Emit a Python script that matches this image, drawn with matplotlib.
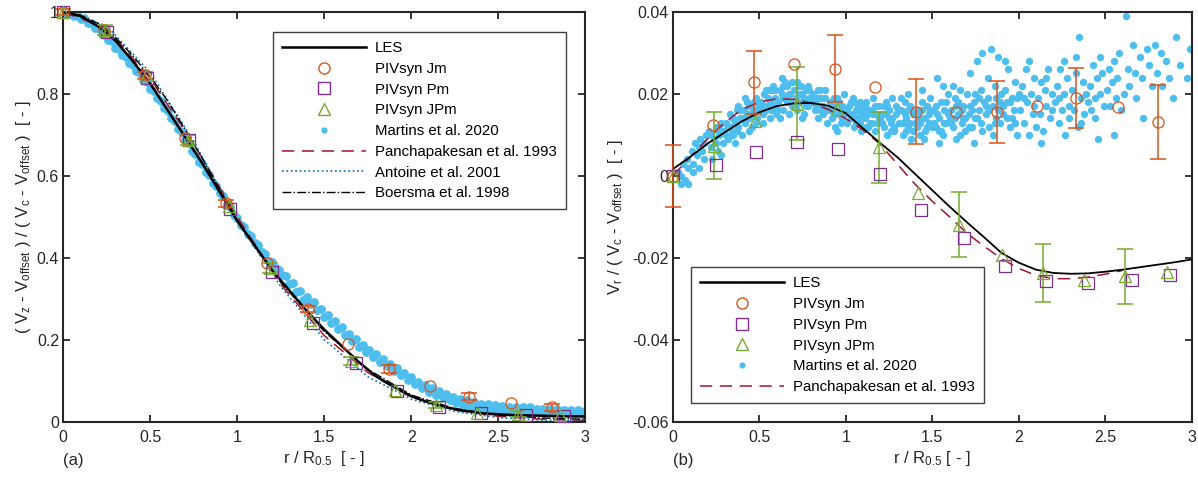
import numpy as np
import matplotlib
matplotlib.use("Agg")
import matplotlib.pyplot as plt

plt.rcParams['font.family'] = ['Liberation Sans', 'DejaVu Sans']
plt.rcParams['mathtext.fontset'] = 'custom'
plt.rcParams['mathtext.rm'] = 'Liberation Sans'
plt.rcParams['mathtext.default'] = 'regular'

# ---------------- data: panel (a), axial velocity ----------------
les_r = [0, 0.1, 0.2, 0.3, 0.4, 0.5, 0.6, 0.7, 0.8, 0.9, 1.0, 1.1, 1.2, 1.3, 1.4, 1.5,
         1.6, 1.7, 1.8, 1.9, 2.0, 2.1, 2.2, 2.3, 2.4, 2.5, 2.6, 2.7, 2.8, 2.9, 3.0]
les_vz = [1.0, 0.99, 0.965, 0.93, 0.88, 0.825, 0.76, 0.695, 0.63, 0.56, 0.49, 0.43, 0.37,
          0.32, 0.27, 0.225, 0.185, 0.145, 0.11, 0.085, 0.062, 0.047, 0.035, 0.027, 0.021,
          0.018, 0.016, 0.015, 0.014, 0.013, 0.013]

jm_r = [0, 0.234, 0.468, 0.702, 0.936, 1.17, 1.405, 1.638, 1.872, 2.107, 2.333, 2.571, 2.807]
jm_vz = [1.0, 0.955, 0.845, 0.692, 0.533, 0.388, 0.275, 0.189, 0.1285, 0.088, 0.061, 0.045, 0.035]
jm_vz_err = [0.008, 0.009, 0.009, 0.008, 0.009, 0.008, 0.008]

pm_r = [0, 0.252, 0.479, 0.72, 0.958, 1.198, 1.437, 1.682, 1.92, 2.159, 2.399, 2.657, 2.877]
pm_vz = [1.0, 0.952, 0.838, 0.687, 0.52, 0.366, 0.242, 0.144, 0.0757, 0.0366, 0.0205, 0.0163, 0.0146]

jpm_r = [0, 0.24, 0.478, 0.718, 0.95, 1.19, 1.418, 1.652, 1.906, 2.142, 2.379, 2.615, 2.855]
jpm_vz = [1.0, 0.957, 0.845, 0.688, 0.527, 0.375, 0.248, 0.149, 0.077, 0.041, 0.022, 0.019, 0.016]
jpm_vz_err = [0.012, 0.012, 0.012, 0.010, 0.008, 0.008]

mart_r = [0.00, 0.02, 0.04, 0.06, 0.08, 0.10, 0.12, 0.14, 0.16, 0.18,
          0.20, 0.22, 0.24, 0.26, 0.28, 0.30, 0.32, 0.34, 0.36, 0.38,
          0.40, 0.42, 0.44, 0.46, 0.48, 0.50, 0.52, 0.54, 0.56, 0.58,
          0.60, 0.62, 0.64, 0.66, 0.68, 0.70, 0.72, 0.74, 0.76, 0.78,
          0.80, 0.82, 0.84, 0.86, 0.88, 0.90, 0.92, 0.94, 0.96, 0.98,
          1.00, 1.02, 1.04, 1.06, 1.08, 1.10, 1.12, 1.14, 1.16, 1.18,
          1.20, 1.22, 1.24, 1.26, 1.28, 1.30, 1.32, 1.34, 1.36, 1.38,
          1.40, 1.42, 1.44, 1.46, 1.48, 1.50, 1.52, 1.54, 1.56, 1.58,
          1.60, 1.62, 1.64, 1.66, 1.68, 1.70, 1.72, 1.74, 1.76, 1.78,
          1.80, 1.82, 1.84, 1.86, 1.88, 1.90, 1.92, 1.94, 1.96, 1.98,
          2.00, 2.02, 2.04, 2.06, 2.08, 2.10, 2.12, 2.14, 2.16, 2.18,
          2.20, 2.22, 2.24, 2.26, 2.28, 2.30, 2.32, 2.34, 2.36, 2.38,
          2.40, 2.42, 2.44, 2.46, 2.48, 2.50, 2.52, 2.54, 2.56, 2.58,
          2.60, 2.62, 2.64, 2.66, 2.68, 2.70, 2.72, 2.74, 2.76, 2.78,
          2.80, 2.82, 2.84, 2.86, 2.88, 2.90, 2.92, 2.94, 2.96, 2.98, 3.00]
mart_vz = [1.000, 0.995, 0.999, 0.991, 0.994, 0.984, 0.985, 0.974, 0.974, 0.961,
           0.960, 0.947, 0.945, 0.931, 0.928, 0.912, 0.909, 0.894, 0.891, 0.875,
           0.871, 0.855, 0.851, 0.834, 0.829, 0.812, 0.807, 0.789, 0.783, 0.765,
           0.759, 0.740, 0.733, 0.714, 0.707, 0.687, 0.680, 0.661, 0.654, 0.635,
           0.628, 0.609, 0.602, 0.583, 0.576, 0.557, 0.550, 0.531, 0.524, 0.505,
           0.498, 0.480, 0.475, 0.458, 0.454, 0.437, 0.432, 0.415, 0.410, 0.393,
           0.389, 0.374, 0.371, 0.357, 0.355, 0.337, 0.339, 0.317, 0.319, 0.298,
           0.304, 0.286, 0.291, 0.272, 0.276, 0.256, 0.261, 0.242, 0.246, 0.226,
           0.230, 0.211, 0.215, 0.196, 0.201, 0.183, 0.188, 0.170, 0.176, 0.158,
           0.164, 0.146, 0.152, 0.135, 0.141, 0.124, 0.130, 0.113, 0.119, 0.101,
           0.108, 0.091, 0.098, 0.082, 0.089, 0.073, 0.081, 0.066, 0.074, 0.059,
           0.067, 0.052, 0.061, 0.046, 0.056, 0.040, 0.052, 0.036, 0.048, 0.032,
           0.044, 0.029, 0.042, 0.027, 0.040, 0.025, 0.038, 0.024, 0.037, 0.023,
           0.036, 0.022, 0.035, 0.021, 0.035, 0.024, 0.031, 0.023, 0.031, 0.023,
           0.030, 0.022, 0.030, 0.021, 0.029, 0.021, 0.028, 0.020, 0.028, 0.019, 0.027]

panch_r = [0, 0.25, 0.5, 0.75, 1.0, 1.25, 1.5, 1.75, 2.0, 2.25, 2.5, 2.75, 3.0]
panch_vz = [1.0, 0.96, 0.838, 0.678, 0.5, 0.335, 0.21, 0.12, 0.06, 0.028, 0.013, 0.006, 0.003]

antoine_r = [0, 0.25, 0.5, 0.75, 1.0, 1.25, 1.5, 1.75, 2.0, 2.25, 2.5, 2.75, 3.0]
antoine_vz = [1.0, 0.966, 0.852, 0.684, 0.49, 0.33, 0.2, 0.11, 0.055, 0.025, 0.01, 0.004, 0.0015]

boersma_r = [0, 0.1, 0.2, 0.3, 0.4, 0.5, 0.6, 0.7, 0.8, 0.9, 1.0, 1.25, 1.5, 1.75, 2.0,
             2.25, 2.5, 2.75, 3.0]
boersma_vz = [1.0, 0.992, 0.972, 0.938, 0.893, 0.842, 0.783, 0.714, 0.642, 0.566, 0.492,
              0.34, 0.22, 0.128, 0.065, 0.032, 0.016, 0.009, 0.006]

# ---------------- data: panel (b), radial velocity ----------------
les_vr = [0.0016, 0.0046, 0.0078, 0.0106, 0.0133, 0.0155, 0.0170, 0.0177, 0.0178, 0.0171,
          0.0153, 0.0116, 0.0080, 0.0045, 0.0005, -0.0035, -0.0075, -0.0113, -0.0150,
          -0.0188, -0.0212, -0.0229, -0.0237, -0.0239, -0.0238, -0.0234, -0.0229, -0.0223,
          -0.0217, -0.0211, -0.0204]

jm_vr = [0.0, 0.0123, 0.0228, 0.0272, 0.0262, 0.0217, 0.0157, 0.0156, 0.0156, 0.0170,
         0.0191, 0.0169, 0.0131]
jm_vr_err = [0.0076, 0.0077, 0.0081, 0.0079, 0.0075, 0.0073, 0.0091]

pm_vr = [0.0, 0.0027, 0.0059, 0.0083, 0.0066, 0.0004, -0.0084, -0.0151, -0.0219, -0.0256,
         -0.0262, -0.0254, -0.0241]

jpm_vr = [0.0, 0.0074, 0.0135, 0.0176, 0.0164, 0.0070, -0.0043, -0.0119, -0.0192, -0.0237,
          -0.0254, -0.0245, -0.0235]
jpm_vr_err = [0.0082, 0.0089, 0.0087, 0.0080, 0.0070, 0.0067]

panch_vr_r = [0, 0.1, 0.2, 0.3, 0.4, 0.5, 0.6, 0.7, 0.8, 0.9, 1.0, 1.1, 1.2, 1.3, 1.4, 1.5,
              1.6, 1.7, 1.8, 1.9, 2.0, 2.1, 2.2, 2.3, 2.4, 2.5, 2.6]
panch_vr = [0.0, 0.0045, 0.0090, 0.0130, 0.0162, 0.0180, 0.0188, 0.0187, 0.0178, 0.0162,
            0.0140, 0.0112, 0.0077, 0.0028, -0.0020, -0.0062, -0.0100, -0.0140, -0.0172,
            -0.0202, -0.0226, -0.0243, -0.0251, -0.0251, -0.0247, -0.0240, -0.0231]

mart_vr_r = [0.03, 0.05, 0.06, 0.07, 0.08, 0.09, 0.05, 0.09,
             0.11, 0.12, 0.13, 0.14, 0.15, 0.16, 0.17, 0.18, 0.19, 0.12, 0.15, 0.18,
             0.21, 0.22, 0.23, 0.24, 0.25, 0.26, 0.27, 0.28, 0.29, 0.22, 0.26, 0.28,
             0.31, 0.32, 0.33, 0.34, 0.35, 0.36, 0.37, 0.38, 0.39, 0.32, 0.35, 0.38, 0.40,
             0.41, 0.42, 0.43, 0.44, 0.45, 0.46, 0.47, 0.48, 0.49, 0.42, 0.45, 0.48, 0.50, 0.44,
             0.51, 0.52, 0.53, 0.54, 0.55, 0.56, 0.57, 0.58, 0.59, 0.52, 0.55, 0.58, 0.60, 0.54,
             0.61, 0.62, 0.63, 0.64, 0.65, 0.66, 0.67, 0.68, 0.69, 0.62, 0.65, 0.68, 0.70, 0.64,
             0.71, 0.72, 0.73, 0.74, 0.75, 0.76, 0.77, 0.78, 0.79, 0.72, 0.75, 0.78, 0.80, 0.74,
             0.81, 0.82, 0.83, 0.84, 0.85, 0.86, 0.87, 0.88, 0.89, 0.82, 0.85, 0.88, 0.90, 0.84,
             0.91, 0.92, 0.93, 0.94, 0.95, 0.96, 0.97, 0.98, 0.99, 0.92, 0.95, 0.98, 1.00,
             1.01, 1.02, 1.03, 1.04, 1.05, 1.06, 1.07, 1.08, 1.09, 1.02, 1.05, 1.08, 1.10,
             1.11, 1.12, 1.13, 1.14, 1.15, 1.16, 1.17, 1.18, 1.19, 1.12, 1.15, 1.18, 1.20,
             1.21, 1.22, 1.23, 1.24, 1.25, 1.26, 1.27, 1.28, 1.29, 1.22, 1.25, 1.28, 1.30,
             1.31, 1.32, 1.33, 1.34, 1.35, 1.36, 1.37, 1.38, 1.39, 1.32, 1.35, 1.38, 1.40, 1.36,
             1.41, 1.42, 1.43, 1.44, 1.45, 1.46, 1.47, 1.48, 1.49, 1.42, 1.45, 1.48, 1.50, 1.44,
             1.51, 1.52, 1.53, 1.54, 1.55, 1.56, 1.57, 1.58, 1.59, 1.52, 1.55, 1.58, 1.60, 1.56,
             1.54,
             1.61, 1.62, 1.63, 1.64, 1.65, 1.66, 1.67, 1.68, 1.69, 1.62, 1.65, 1.68, 1.70, 1.66,
             1.71, 1.72, 1.73, 1.74, 1.75, 1.76, 1.77, 1.78, 1.79, 1.72, 1.75, 1.78, 1.80, 1.74,
             1.79,
             1.81, 1.82, 1.83, 1.84, 1.85, 1.86, 1.87, 1.88, 1.89, 1.82, 1.85, 1.88, 1.90, 1.86,
             1.91, 1.92, 1.93, 1.94, 1.95, 1.96, 1.97, 1.98, 1.99, 1.92, 1.95, 1.98, 2.00,
             2.01, 2.02, 2.03, 2.04, 2.05, 2.06, 2.07, 2.08, 2.09, 2.03, 2.06, 2.09, 2.10,
             2.11, 2.12, 2.13, 2.14, 2.15, 2.16, 2.17, 2.18, 2.19, 2.13, 2.16, 2.19,
             2.21, 2.22, 2.23, 2.24, 2.25, 2.26, 2.27, 2.28, 2.29, 2.23, 2.26, 2.29,
             2.31, 2.32, 2.33, 2.34, 2.35, 2.36, 2.37, 2.38, 2.39, 2.33, 2.36, 2.40,
             2.41, 2.42, 2.43, 2.44, 2.45, 2.46, 2.47, 2.48, 2.49, 2.44, 2.47,
             2.51, 2.52, 2.53, 2.54, 2.55, 2.56, 2.57, 2.58, 2.59, 2.55,
             2.61, 2.62, 2.63, 2.64, 2.66, 2.67, 2.68, 2.70,
             2.71, 2.72, 2.74, 2.75, 2.77, 2.79, 2.80,
             2.82, 2.83, 2.85, 2.87, 2.89,
             2.91, 2.93, 2.97, 2.99]
mart_vr = [0.001, -0.002, 0.003, -0.001, 0.004, 0.002, 0.000, -0.002,
           0.006, 0.003, 0.008, 0.005, 0.002, 0.009, 0.006, 0.004, 0.010, 0.001, 0.007, 0.008,
           0.011, 0.007, 0.004, 0.009, 0.012, 0.006, 0.010, 0.013, 0.008, 0.010, 0.011, 0.005,
           0.013, 0.009, 0.015, 0.011, 0.014, 0.008, 0.016, 0.012, 0.014, 0.012, 0.010, 0.017, 0.010,
           0.016, 0.013, 0.018, 0.014, 0.017, 0.012, 0.016, 0.019, 0.014, 0.019, 0.015, 0.013, 0.017, 0.011,
           0.018, 0.015, 0.020, 0.016, 0.019, 0.014, 0.021, 0.017, 0.019, 0.013, 0.017, 0.022, 0.015, 0.021,
           0.018, 0.021, 0.024, 0.016, 0.019, 0.022, 0.015, 0.020, 0.017, 0.014, 0.023, 0.018, 0.021, 0.019,
           0.019, 0.016, 0.022, 0.018, 0.020, 0.015, 0.021, 0.017, 0.019, 0.023, 0.014, 0.022, 0.018, 0.020,
           0.020, 0.016, 0.019, 0.014, 0.021, 0.017, 0.015, 0.019, 0.013, 0.018, 0.016, 0.021, 0.016, 0.019,
           0.018, 0.014, 0.017, 0.012, 0.019, 0.015, 0.013, 0.017, 0.020, 0.016, 0.011, 0.014, 0.016,
           0.013, 0.017, 0.014, 0.019, 0.012, 0.016, 0.014, 0.018, 0.011, 0.015, 0.018, 0.013, 0.016,
           0.014, 0.018, 0.012, 0.016, 0.013, 0.019, 0.011, 0.015, 0.017, 0.012, 0.016, 0.013, 0.014,
           0.015, 0.012, 0.018, 0.010, 0.016, 0.013, 0.019, 0.011, 0.015, 0.017, 0.014, 0.012, 0.016,
           0.013, 0.016, 0.010, 0.018, 0.014, 0.012, 0.017, 0.009, 0.015, 0.019, 0.011, 0.016, 0.013, 0.020,
           0.012, 0.016, 0.010, 0.018, 0.014, 0.011, 0.017, 0.013, 0.019, 0.014, 0.009, 0.015, 0.012, 0.021,
           0.016, 0.012, 0.024, 0.014, 0.018, 0.010, 0.016, 0.013, 0.020, 0.017, 0.011, 0.018, 0.014, 0.022,
           0.008,
           0.016, 0.012, 0.019, 0.009, 0.015, 0.021, 0.013, 0.017, 0.011, 0.022, 0.018, 0.014, 0.020, 0.010,
           0.015, 0.025, 0.012, 0.018, 0.014, 0.028, 0.016, 0.021, 0.011, 0.017, 0.020, 0.013, 0.018, 0.008,
           0.030,
           0.015, 0.019, 0.012, 0.031, 0.017, 0.022, 0.014, 0.029, 0.018, 0.024, 0.010, 0.016, 0.020, 0.013,
           0.017, 0.021, 0.014, 0.026, 0.012, 0.019, 0.016, 0.023, 0.010, 0.028, 0.018, 0.013, 0.020,
           0.016, 0.022, 0.013, 0.026, 0.018, 0.010, 0.020, 0.015, 0.024, 0.019, 0.028, 0.017, 0.012,
           0.019, 0.015, 0.023, 0.011, 0.021, 0.017, 0.026, 0.014, 0.020, 0.008, 0.024, 0.016,
           0.018, 0.022, 0.013, 0.026, 0.016, 0.020, 0.010, 0.024, 0.017, 0.019, 0.028, 0.014,
           0.021, 0.016, 0.029, 0.012, 0.034, 0.019, 0.023, 0.015, 0.020, 0.025, 0.013, 0.018,
           0.022, 0.016, 0.027, 0.019, 0.024, 0.009, 0.020, 0.025, 0.017, 0.014, 0.029,
           0.021, 0.026, 0.017, 0.023, 0.028, 0.019, 0.024, 0.030, 0.016, 0.010,
           0.020, 0.039, 0.026, 0.022, 0.032, 0.025, 0.019, 0.029,
           0.024, 0.014, 0.031, 0.027, 0.022, 0.032, 0.025,
           0.030, 0.022, 0.028, 0.024, 0.019,
           0.034, 0.027, 0.024, 0.031]

# extra points where the measured cloud is densest
mart_vr_r_dense = [0.25, 0.27, 0.29, 0.31, 0.33, 0.34, 0.36, 0.37, 0.39, 0.41, 0.43, 0.44,
                   0.46, 0.47, 0.49,
                   0.51, 0.53, 0.55, 0.56, 0.57, 0.59, 0.61, 0.63, 0.64, 0.66, 0.67, 0.69,
                   0.71, 0.73, 0.74, 0.76, 0.77, 0.79, 0.81, 0.83, 0.84, 0.86, 0.87, 0.89,
                   0.91, 0.93, 0.94, 0.96, 0.97, 0.99,
                   1.01, 1.03, 1.04, 1.06, 1.07, 1.09, 1.11, 1.13, 1.14, 1.16, 1.17, 1.19,
                   1.21, 1.23, 1.24, 1.26, 1.27, 1.29,
                   1.31, 1.33, 1.34, 1.36, 1.37, 1.39, 1.41, 1.43, 1.44, 1.46, 1.47, 1.49,
                   1.51, 1.53, 1.54, 1.57, 1.59, 1.61, 1.63, 1.64, 1.67, 1.69, 1.71, 1.73,
                   1.76, 1.77, 1.81, 1.83, 1.87, 1.89, 1.91, 1.93, 1.96, 1.99]
mart_vr_dense = [0.008, 0.012, 0.011, 0.010, 0.012, 0.014, 0.013, 0.011, 0.016, 0.014, 0.015,
                 0.017, 0.015, 0.018, 0.016,
                 0.016, 0.017, 0.021, 0.018, 0.016, 0.021, 0.016, 0.020, 0.022, 0.018, 0.020,
                 0.023, 0.017, 0.020, 0.022, 0.019, 0.017, 0.021, 0.018, 0.017, 0.021, 0.019,
                 0.017, 0.016,
                 0.016, 0.019, 0.015, 0.018, 0.016, 0.015,
                 0.016, 0.018, 0.015, 0.013, 0.017, 0.015, 0.017, 0.015, 0.013, 0.015, 0.017,
                 0.014,
                 0.013, 0.015, 0.017, 0.011, 0.014, 0.017,
                 0.016, 0.013, 0.015, 0.016, 0.013, 0.011, 0.015, 0.013, 0.016, 0.014, 0.012,
                 0.016,
                 0.013, 0.015, 0.011, 0.013, 0.015, 0.013, 0.014, 0.017, 0.016, 0.014, 0.012,
                 0.016, 0.014, 0.019, 0.017, 0.016, 0.019, 0.013, 0.015, 0.018, 0.014, 0.019]

# ---------------- styles ----------------
c_jm = '#D95319'
c_pm = '#7E2F8E'
c_jpm = '#77AC30'
c_mart = '#4DBEEE'
c_panch = '#A2142F'
c_ant = '#0072BD'
c_axis = '#262626'

fig = plt.figure(figsize=(11.98, 4.79), dpi=100)
ax1 = fig.add_axes([0.0528, 0.1197, 0.4357, 0.8553])
ax2 = fig.add_axes([0.5615, 0.1197, 0.4333, 0.8553])


def style_axis(ax):
    for s in ax.spines.values():
        s.set_linewidth(1.5)
        s.set_color(c_axis)
    ax.tick_params(direction='in', top=True, right=True, length=5, width=1.3,
                   labelsize=11.5, colors=c_axis)
    ax.tick_params(axis='x', pad=6)
    ax.tick_params(axis='y', pad=3)
    ax.set_xlim(0, 3)
    ax.set_xticks([0, 0.5, 1, 1.5, 2, 2.5, 3])
    ax.set_xticklabels(['0', '0.5', '1', '1.5', '2', '2.5', '3'])


mk = dict(linestyle='none', markerfacecolor='none', markersize=8, markeredgewidth=0.9,
          clip_on=False, zorder=4)
eb = dict(fmt='none', capsize=5.5, elinewidth=1.1, capthick=1.1, clip_on=False, zorder=3)
leg_kw = dict(borderaxespad=0, fontsize=10.8, handlelength=5.6, labelspacing=0.45,
              fancybox=False, framealpha=1, edgecolor='#404040', borderpad=0.6,
              handletextpad=0.6)

# ---------- panel (a) ----------
ax1.scatter(mart_r, mart_vz, s=40, color=c_mart, linewidths=0, zorder=1)
ax1.plot(panch_r, panch_vz, color=c_panch, lw=1.1, dashes=(8, 5), zorder=2)
ax1.plot(antoine_r, antoine_vz, color=c_ant, lw=1.2, linestyle=':', zorder=2)
ax1.plot(boersma_r, boersma_vz, color='k', lw=1.0, linestyle='-.', zorder=2)
ax1.plot(les_r, les_vz, color='k', lw=1.8, zorder=3)
ax1.errorbar(jm_r[::2], jm_vz[::2], yerr=jm_vz_err, ecolor=c_jm, **eb)
ax1.errorbar(jpm_r[1::2], jpm_vz[1::2], yerr=jpm_vz_err, ecolor=c_jpm, **eb)
ax1.plot(jm_r, jm_vz, marker='o', markeredgecolor=c_jm, **mk)
ax1.plot(pm_r, pm_vz, marker='s', markeredgecolor=c_pm, **mk)
ax1.plot(jpm_r, jpm_vz, marker='^', markeredgecolor=c_jpm, **mk)

h_les = plt.Line2D([], [], color='k', lw=1.8)
h_jm = plt.Line2D([], [], marker='o', color=c_jm, markerfacecolor='none', linestyle='none', markersize=8)
h_pm = plt.Line2D([], [], marker='s', color=c_pm, markerfacecolor='none', linestyle='none', markersize=8)
h_jpm = plt.Line2D([], [], marker='^', color=c_jpm, markerfacecolor='none', linestyle='none', markersize=8)
h_mart = plt.Line2D([], [], marker='o', color=c_mart, linestyle='none', markersize=4.5, markeredgewidth=0)
h_panch = plt.Line2D([], [], color=c_panch, lw=1.1, dashes=(8, 5))
h_ant = plt.Line2D([], [], color=c_ant, lw=1.2, linestyle=':')
h_boer = plt.Line2D([], [], color='k', lw=1.0, linestyle='-.')

style_axis(ax1)
ax1.set_ylim(0, 1)
ax1.set_yticks([0, 0.2, 0.4, 0.6, 0.8, 1])
ax1.set_yticklabels(['0', '0.2', '0.4', '0.6', '0.8', '1'])
ax1.set_xlabel('r / R$_{0.5}$  [ - ]', fontsize=12, color=c_axis, labelpad=3)
ax1.set_ylabel('( V$_z$ - V$_{offset}$ ) / ( V$_c$ - V$_{offset}$ )  [ - ]', fontsize=12,
               color=c_axis, labelpad=3)
ax1.text(0.0, -0.096, '(a)', transform=ax1.transAxes, fontsize=12, color=c_axis,
         ha='left', va='center')
leg1 = ax1.legend([h_les, h_jm, h_pm, h_jpm, h_mart, h_panch, h_ant, h_boer],
                  ['LES', 'PIVsyn Jm', 'PIVsyn Pm', 'PIVsyn JPm', 'Martins et al. 2020',
                   'Panchapakesan et al. 1993', 'Antoine et al. 2001', 'Boersma et al. 1998'],
                  loc='upper right', bbox_to_anchor=(0.963, 0.951), **leg_kw)
leg1.get_frame().set_linewidth(1.0)

# ---------- panel (b) ----------
ax2.scatter(mart_vr_r + mart_vr_r_dense, mart_vr + mart_vr_dense, s=28, color=c_mart,
            linewidths=0, zorder=1)
ax2.plot(panch_vr_r, panch_vr, color=c_panch, lw=1.1, dashes=(8, 5), zorder=2)
ax2.plot(les_r, les_vr, color='k', lw=1.3, zorder=3)
ax2.errorbar(jm_r[::2], jm_vr[::2], yerr=jm_vr_err, ecolor=c_jm, **eb)
ax2.errorbar(jpm_r[1::2], jpm_vr[1::2], yerr=jpm_vr_err, ecolor=c_jpm, **eb)
ax2.plot(jm_r, jm_vr, marker='o', markeredgecolor=c_jm, **mk)
ax2.plot(pm_r, pm_vr, marker='s', markeredgecolor=c_pm, **mk)
ax2.plot(jpm_r, jpm_vr, marker='^', markeredgecolor=c_jpm, **mk)

style_axis(ax2)
ax2.set_ylim(-0.06, 0.04)
ax2.set_yticks([-0.06, -0.04, -0.02, 0, 0.02, 0.04])
ax2.set_yticklabels(['-0.06', '-0.04', '-0.02', '0', '0.02', '0.04'])
ax2.set_xlabel('r / R$_{0.5}$ [ - ]', fontsize=12, color=c_axis, labelpad=3)
ax2.set_ylabel('V$_r$ / ( V$_c$ - V$_{offset}$ )  [ - ]', fontsize=12, color=c_axis,
               labelpad=5)
ax2.text(0.0, -0.096, '(b)', transform=ax2.transAxes, fontsize=12, color=c_axis,
         ha='left', va='center')
h_les2 = plt.Line2D([], [], color='k', lw=1.8)
leg2 = ax2.legend([h_les2, h_jm, h_pm, h_jpm, h_mart, h_panch],
                  ['LES', 'PIVsyn Jm', 'PIVsyn Pm', 'PIVsyn JPm', 'Martins et al. 2020',
                   'Panchapakesan et al. 1993'],
                  loc='lower left', bbox_to_anchor=(0.035, 0.045), **leg_kw)
leg2.get_frame().set_linewidth(1.0)

fig.savefig('out.png', dpi=100)
